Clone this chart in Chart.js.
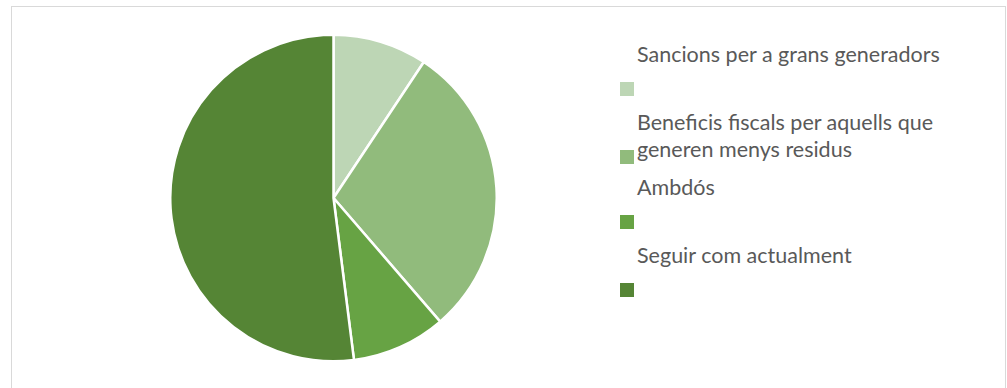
<!DOCTYPE html>
<html>
<head>
    <meta charset="utf-8">
    <title>Pie chart</title>
    <script src="https://cdn.jsdelivr.net/npm/chart.js"></script>
    <style>
        body { margin: 0; background: #fff; width: 1007px; height: 388px; overflow: hidden; position: relative; }
        #frame { position: absolute; left: 11px; top: 6px; width: 993px; height: 400px; border: 1.5px solid #d9d9d9; }
        #pieWrap { position: absolute; left: 169px; top: 33px; width: 329px; height: 330px; }
        #legend { position: absolute; left: 620px; top: 0; font-family: Lato, "Noto Sans", sans-serif; font-size: 21.5px; color: #595959; }
        .item { position: absolute; left: 0; white-space: nowrap; }
        .item .txt { position: absolute; left: 17px; line-height: 27px; }
        .item .box { position: absolute; left: 0; width: 14px; height: 14px; }
    </style>
</head>
<body>
<div id="frame"></div>
<div id="pieWrap"><canvas id="pie"></canvas></div>
<div id="legend"></div>

<script>
const labels = ['Sancions per a grans generadors', 'Beneficis fiscals per aquells que generen menys residus', 'Ambdós', 'Seguir com actualment'];
const legendLines = [['Sancions per a grans generadors', ''], ['Beneficis fiscals per aquells que', 'generen menys residus'], ['Ambdós', ''], ['Seguir com actualment', '']];
const values = [7, 22, 7, 39];
const colors = ['#bdd6b5', '#91bb7c', '#67a344', '#558535'];

// top of each legend item
const legendTops = [41, 109, 174, 242];

const legend = document.getElementById('legend');
labels.forEach(function(lab, i) {
    const item = document.createElement('div');
    item.className = 'item';
    item.style.top = legendTops[i] + 'px';
    const txt = document.createElement('div');
    txt.className = 'txt';
    txt.innerHTML = legendLines[i].map(function(l) { return l || '&nbsp;'; }).join('<br>');
    const box = document.createElement('div');
    box.className = 'box';
    box.style.background = colors[i];
    box.style.top = '41px';
    item.appendChild(txt);
    item.appendChild(box);
    legend.appendChild(item);
});

new Chart(document.getElementById('pie').getContext('2d'), {
    type: 'pie',
    data: {
        labels: labels,
        datasets: [{
            data: values,
            backgroundColor: colors,
            borderColor: '#ffffff',
            borderWidth: 2.5
        }]
    },
    options: {
        responsive: true,
        maintainAspectRatio: false,
        animation: false,
        plugins: {
            legend: { display: false },
            tooltip: { enabled: false }
        }
    }
});
</script>
</body>
</html>
